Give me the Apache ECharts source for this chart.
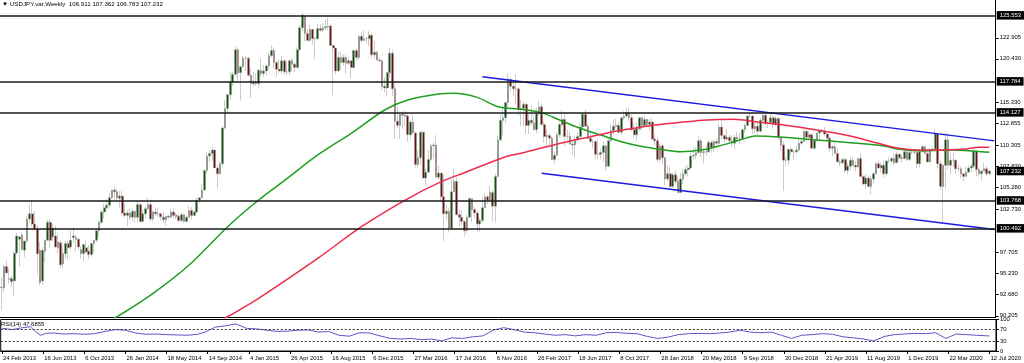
<!DOCTYPE html>
<html><head><meta charset="utf-8">
<script src="https://cdn.jsdelivr.net/npm/echarts@6/dist/echarts.min.js"></script>
<style>html,body{margin:0;padding:0;background:#fff}#c{width:1024px;height:363px}</style>
</head><body><div id="c"></div><script>
// ---------- data ----------
const symbolName = 'USDJPY.var,Weekly';
const startWeek = [2013, 1, 24];
const missingWeeks = ['2014-07-13'];
const emptySlots = 2;
// weekly rows [open, high, low, close]
const w2013 = [[93.5,94.75,90.85,93.57],[93.5,96.2,92.9,96.0],[96.0,96.7,95.2,95.25],[94.6,95.8,94.0,94.5],[94.6,94.9,93.6,94.2],[94.3,97.8,92.56,97.55],[97.6,99.95,97.4,99.6],[99.2,99.6,96.0,99.5],[99.7,99.95,97.9,98.0],[97.9,99.0,97.1,99.0],[99.0,101.98,98.8,101.6],[101.6,103.3,101.2,102.2],[102.2,103.74,100.7,101.0],[101.0,102.5,100.2,100.45],[100.4,100.9,94.98,97.5],[97.9,98.9,93.8,94.1],[94.3,98.3,93.8,97.9],[97.8,99.2,96.5,99.1],[99.1,101.5,99.0,101.2],[101.2,101.5,98.2,99.1],[99.5,101.0,99.0,100.5],[99.6,100.8,98.1,98.3],[98.2,100.0,97.6,98.9],[98.8,99.1,95.8,96.2],[96.3,98.5,95.8,97.5],[97.5,99.1,97.0,98.7],[98.7,99.0,96.8,98.2],[98.3,100.2,98.0,99.1],[99.6,100.6,98.8,99.4],[99.2,99.7,97.8,99.4],[99.2,99.4,98.0,98.3],[98.0,98.4,96.9,97.5],[97.5,98.6,96.6,98.6],[98.2,99.0,97.6,97.7],[97.8,98.5,96.9,97.4],[97.4,98.8,97.2,98.7],[98.7,99.2,97.6,99.05],[99.1,100.4,98.9,100.2],[100.2,101.4,99.5,101.2],[101.2,102.6,101.0,102.4],[102.4,103.4,101.6,102.9],[102.9,103.9,102.6,103.2],[103.2,104.6,102.8,104.1],[104.1,105.0,104.0,105.0],[105.0,105.44,103.8,104.8]];
const w2014 = [[104.8,105.2,103.8,104.1],[104.0,104.9,102.85,104.3],[104.3,104.9,102.1,102.3],[102.3,103.4,101.8,102.0],[102.0,102.6,100.75,102.3],[102.3,102.8,101.4,101.8],[101.8,102.8,101.4,102.5],[102.5,102.6,101.2,101.8],[101.8,103.76,101.2,103.3],[103.3,103.4,101.2,101.3],[101.3,102.7,101.2,102.2],[102.2,103.1,101.7,102.8],[102.8,104.1,102.7,103.3],[103.3,103.9,101.3,101.6],[101.6,102.6,101.3,102.4],[102.4,102.9,101.9,102.2],[102.2,103.0,101.9,102.2],[102.2,102.3,101.4,101.85],[101.8,102.4,101.1,101.5],[101.5,101.9,100.8,101.9],[101.9,102.1,101.6,101.8],[101.8,102.8,101.8,102.4],[102.4,102.8,101.7,102.0],[102.0,102.3,101.6,101.9],[101.9,102.1,101.2,101.4],[101.4,102.3,101.2,102.1],[102.1,102.2,101.1,101.3],[101.3,102.0,101.1,101.8],[101.8,103.15,101.7,102.6],[102.6,103.0,101.5,102.0],[102.0,102.6,101.9,102.4],[102.4,104.1,102.3,103.8],[103.8,104.1,103.5,104.1],[104.1,105.7,104.0,105.0],[105.0,107.4,104.9,107.3],[107.3,109.45,106.9,109.0],[109.0,109.7,108.3,109.3],[109.3,110.09,108.4,109.7],[109.7,109.8,107.6,107.6],[107.6,107.9,105.2,106.9],[106.9,108.4,106.8,108.1],[108.1,112.5,107.8,112.3],[112.3,115.6,112.2,114.6],[114.6,116.3,114.0,116.2],[116.2,118.9,115.5,117.7],[117.7,118.9,117.2,118.6],[118.6,121.85,118.5,121.5],[121.5,121.7,117.8,118.8],[118.8,119.6,115.55,119.5],[119.5,120.8,119.4,120.5],[120.5,120.7,119.0,120.5]];
const w2015 = [[120.5,120.7,118.3,118.5],[118.5,119.3,115.85,117.5],[117.5,118.9,117.2,117.7],[117.7,118.7,117.2,117.5],[117.5,119.2,116.9,119.1],[119.1,120.5,118.3,118.7],[118.7,119.7,118.3,119.0],[119.0,119.8,118.5,119.6],[119.6,121.2,119.2,120.8],[120.8,122.03,120.6,121.4],[121.4,121.8,119.3,120.0],[120.0,120.2,118.3,119.2],[119.2,120.4,118.7,119.0],[119.0,120.8,118.7,120.2],[120.2,120.4,118.6,118.9],[118.9,120.1,118.5,118.9],[118.9,120.3,118.5,120.2],[120.2,120.5,119.0,119.8],[119.8,120.0,118.9,119.4],[119.4,121.8,119.3,121.5],[121.5,124.4,121.4,124.1],[124.1,125.85,123.7,125.6],[125.4,125.5,122.5,123.4],[123.4,123.9,122.5,122.6],[122.6,124.45,122.4,123.9],[123.9,123.9,122.1,122.8],[122.8,123.0,120.4,122.8],[122.8,124.5,122.6,124.0],[124.0,124.5,123.6,123.8],[123.8,124.6,123.5,124.1],[124.1,125.1,123.8,124.2],[124.2,125.3,123.8,124.3],[124.3,124.6,122.0,122.0],[122.0,122.1,116.15,121.7],[121.7,121.7,118.6,119.0],[119.0,121.3,118.8,120.6],[120.6,121.3,119.2,120.0],[120.0,121.0,119.6,120.6],[120.6,120.9,118.7,119.9],[119.9,120.7,119.7,120.2],[120.2,120.3,118.1,119.4],[119.4,121.5,119.3,121.4],[121.4,121.7,120.2,120.6],[120.6,123.2,120.3,123.1],[123.1,123.6,122.4,122.6],[122.6,123.8,122.5,122.8],[122.8,123.0,122.3,122.8],[122.8,123.7,121.9,123.2],[123.2,123.4,120.6,120.9],[120.9,122.6,120.4,121.2],[121.2,121.4,120.2,120.3],[120.3,120.6,120.0,120.2]];
const w2016 = [[120.2,120.4,116.7,117.2],[117.2,118.3,116.5,117.0],[117.0,118.9,115.97,118.8],[118.8,121.7,118.2,121.1],[121.1,121.5,116.1,116.9],[116.9,117.5,110.99,113.1],[113.1,114.9,112.3,112.6],[112.6,114.0,111.0,113.9],[113.9,114.2,112.2,113.8],[113.8,114.3,112.5,113.7],[113.7,114.2,110.7,111.5],[111.5,113.3,111.0,113.0],[113.0,113.8,111.6,111.7],[111.7,111.9,107.65,108.0],[108.0,109.7,107.6,108.8],[108.8,111.9,107.9,111.8],[111.8,111.9,106.3,106.4],[106.4,107.5,105.5,107.1],[107.1,109.7,107.0,108.6],[108.6,110.4,108.3,110.2],[110.2,110.6,108.7,110.3],[110.3,111.45,106.5,106.5],[106.5,107.9,106.3,107.0],[107.0,107.0,103.55,104.2],[104.2,106.8,99.0,102.2],[102.2,103.3,101.5,102.5],[102.5,102.9,99.98,100.5],[100.5,106.3,100.4,104.8],[104.8,107.5,104.7,106.0],[106.0,106.5,102.0,102.1],[102.1,102.6,100.7,101.8],[101.8,102.7,100.9,101.3],[101.3,101.4,99.55,100.2],[100.2,102.0,99.9,101.8],[101.8,104.2,101.7,104.0],[104.0,104.0,101.2,102.7],[102.7,103.0,101.7,102.3],[102.3,102.6,100.1,101.0],[101.0,101.7,100.1,101.4],[101.4,104.2,101.1,102.9],[102.9,104.6,102.8,104.2],[104.2,104.4,103.3,103.8],[103.8,105.5,103.6,104.7],[104.7,105.0,101.3,103.1],[103.1,106.9,101.2,106.6],[106.6,111.4,106.5,110.9],[110.9,113.9,110.7,113.2],[113.2,114.8,111.4,113.5],[113.5,115.4,112.9,115.3],[115.3,118.66,114.7,118.0],[118.0,118.25,116.6,117.2],[117.2,117.8,116.0,116.9]];
const w2017 = [[116.9,118.6,115.1,116.9],[116.9,116.9,113.75,114.5],[114.5,115.6,112.6,114.6],[114.6,115.4,112.5,115.1],[115.1,115.2,111.6,112.6],[112.6,113.9,111.6,113.2],[113.2,114.9,112.6,112.9],[112.9,113.9,112.1,112.1],[112.1,114.7,111.7,114.0],[114.0,115.5,113.7,114.8],[114.8,115.2,112.6,112.7],[112.7,113.1,110.6,111.3],[111.3,112.2,110.1,111.4],[111.4,111.6,110.1,111.1],[111.1,111.3,108.5,108.6],[108.6,109.5,108.1,109.1],[109.1,111.8,109.0,111.5],[111.5,113.0,111.2,112.7],[112.7,114.4,112.5,113.3],[113.3,113.9,110.2,111.3],[111.3,112.1,110.8,111.3],[111.3,111.8,110.3,110.4],[110.4,110.7,109.1,110.3],[110.3,111.4,108.8,110.9],[110.9,111.8,110.8,111.3],[111.3,112.9,111.0,112.4],[112.4,114.1,112.4,113.9],[113.9,114.5,112.5,112.5],[112.5,112.8,111.0,111.1],[111.1,111.9,110.6,110.7],[110.7,111.0,109.9,110.7],[110.7,110.9,108.7,109.2],[109.2,110.95,108.6,109.2],[109.2,109.8,108.6,109.4],[109.4,110.7,108.3,110.2],[110.2,110.3,107.3,107.8],[107.8,111.0,107.7,110.8],[110.8,112.7,110.7,112.0],[112.0,113.3,111.5,112.5],[112.5,113.4,112.3,112.6],[112.6,113.0,111.7,111.8],[111.8,113.6,111.5,113.5],[113.5,114.3,113.2,113.7],[113.7,114.7,113.5,114.1],[114.1,114.7,113.1,113.5],[113.5,113.9,111.9,112.1],[112.1,112.9,111.1,111.5],[111.5,112.9,110.8,112.2],[112.2,113.6,112.0,113.5],[113.5,113.7,112.0,112.6],[112.6,113.7,112.5,113.3],[113.3,113.4,112.5,112.7]];
const w2018 = [[112.7,113.4,112.0,113.0],[113.0,113.4,110.9,111.0],[111.0,111.5,110.2,110.8],[110.8,111.2,108.3,108.6],[108.6,110.5,108.3,110.2],[110.2,110.5,108.1,108.8],[108.8,108.9,105.55,106.3],[106.3,107.9,106.0,106.9],[106.9,107.7,105.25,105.4],[105.4,107.0,105.3,106.8],[106.8,107.3,105.6,106.0],[106.0,106.6,104.6,104.7],[104.7,107.0,104.6,106.3],[106.3,107.5,105.7,106.9],[106.9,107.8,106.6,107.4],[107.4,107.9,106.6,107.6],[107.6,109.5,107.5,109.0],[109.0,110.0,108.6,109.1],[109.1,110.0,108.6,109.4],[109.4,111.4,109.3,110.8],[110.8,111.1,108.9,109.4],[109.4,109.8,108.1,109.5],[109.5,110.3,109.0,109.5],[109.5,110.9,109.4,110.6],[110.6,110.8,109.4,110.0],[110.0,110.9,109.4,110.7],[110.7,111.1,110.3,110.5],[110.5,112.8,110.3,112.4],[112.4,113.2,111.0,111.4],[111.4,111.5,110.6,111.0],[111.0,112.2,110.8,111.2],[111.2,111.5,110.4,110.8],[110.8,111.4,110.1,110.5],[110.5,111.5,109.8,111.2],[111.2,111.8,110.6,111.0],[111.0,111.8,110.4,111.0],[111.0,112.1,110.9,112.1],[112.1,112.9,111.7,112.6],[112.6,113.7,112.5,113.7],[113.7,114.55,113.5,113.7],[113.7,113.8,111.6,112.2],[112.2,112.9,111.6,112.5],[112.5,112.9,111.4,111.9],[111.9,113.4,111.8,113.2],[113.2,114.1,112.9,113.8],[113.8,114.2,112.6,112.8],[112.8,113.2,112.3,112.9],[112.9,114.0,112.7,113.5],[113.5,113.8,112.2,112.7],[112.7,113.7,112.5,113.4],[113.4,113.6,110.8,111.2],[111.2,111.4,109.6,110.3],[110.3,110.7,104.87,108.5]];
const w2019 = [[108.5,108.9,107.8,108.5],[108.5,109.9,107.9,109.8],[109.8,109.9,109.2,109.5],[109.5,109.7,108.5,109.5],[109.5,110.2,109.3,109.7],[109.7,111.1,109.6,110.5],[110.5,110.9,110.3,110.7],[110.7,112.1,110.6,111.9],[111.9,112.1,110.8,111.2],[111.2,111.9,111.0,111.5],[111.5,111.7,109.9,109.9],[109.9,111.0,109.7,110.8],[110.8,111.8,110.7,111.7],[111.7,112.0,110.9,112.0],[112.0,112.2,111.7,111.9],[111.9,112.4,111.4,111.6],[111.6,111.7,110.9,111.1],[111.1,111.2,109.5,109.9],[109.9,110.3,109.0,110.1],[110.1,110.7,109.3,109.3],[109.3,109.9,108.3,108.3],[108.3,108.6,107.8,108.2],[108.2,108.8,108.0,108.6],[108.6,108.8,107.0,107.3],[107.3,108.2,106.8,107.8],[107.8,108.9,107.3,108.5],[108.5,108.9,107.8,107.9],[107.9,108.4,107.2,107.7],[107.7,108.8,107.6,108.7],[108.7,109.3,106.5,106.6],[106.6,106.8,105.5,105.7],[105.7,106.9,105.1,106.4],[106.4,106.7,105.3,105.4],[105.4,106.7,104.45,106.3],[106.3,107.2,105.7,106.9],[106.9,108.3,106.8,108.1],[108.1,108.5,107.5,107.6],[107.6,108.2,107.1,107.9],[107.9,108.5,106.5,106.9],[106.9,108.6,106.7,108.4],[108.4,108.9,108.2,108.4],[108.4,108.9,108.2,108.7],[108.7,109.3,107.9,108.2],[108.2,109.5,108.2,109.2],[109.2,109.3,108.3,108.8],[108.8,109.1,108.2,108.7],[108.7,109.7,108.6,109.5],[109.5,109.7,108.4,108.6],[108.6,109.7,108.4,109.4],[109.4,109.7,109.2,109.4],[109.4,109.6,109.2,109.4],[109.4,109.7,107.6,108.1]];
const w2020 = [[108.1,109.7,107.65,109.5],[109.5,110.3,109.4,110.1],[110.1,110.2,109.2,109.3],[109.3,109.6,108.3,108.3],[108.3,110.0,108.3,109.8],[109.8,110.1,109.6,109.8],[109.8,112.2,109.7,111.6],[111.6,111.6,107.5,108.1],[108.1,108.5,105.0,105.4],[105.4,108.0,101.18,107.9],[107.9,111.7,105.15,110.9],[110.9,111.7,107.4,107.9],[107.9,109.4,106.9,108.5],[108.5,109.4,107.7,108.5],[108.5,108.6,106.9,107.5],[107.5,108.0,107.2,107.5],[107.5,107.8,106.4,106.9],[106.9,107.0,106.0,106.6],[106.6,107.8,106.6,107.1],[107.1,107.9,107.1,107.6],[107.6,108.1,107.1,107.8],[107.8,109.85,107.6,109.6],[109.6,109.7,106.6,107.4],[107.4,107.6,106.6,106.9],[106.9,107.5,106.1,107.2],[107.2,108.2,107.2,107.5],[107.5,107.8,106.6,106.9],[106.911,107.362,106.783,107.232]];

const priceTicks = [122.905, 120.430, 115.330, 112.855, 110.305, 107.830, 105.280, 102.730, 97.705, 95.230, 92.680, 90.205];
const levelLines = [125.553, 117.784, 114.127, 103.768, 100.492];
const lastPrice = 107.232;
// moving averages: [bar index, value]
const maGreen = [[42,89.7],[45,90.09],[59,92.85],[73,96.18],[88,100.68],[100,103.82],[110,106.1],[123,109.12],[136,111.67],[149,114.41],[158,115.59],[170,116.29],[176,116.38],[185,115.9],[193,114.8],[202,114.5],[210,114.1],[217,113.23],[225,112.26],[233,111.47],[241,110.68],[248,110.18],[256,109.79],[264,109.5],[272,109.7],[279,110.18],[287,110.88],[293,111.35],[304,111.2],[317,110.88],[330,110.56],[343,110.18],[349,109.79],[356,109.62],[369,109.7],[381,109.5],[384,109.45]];
const maRed = [[86,89.8],[88,90.09],[100,92.26],[123,96.96],[140,100.68],[157,103.82],[171,105.98],[181,107.15],[196,108.92],[202,109.32],[211,110.02],[220,110.68],[229,111.27],[238,111.86],[246,112.26],[254,112.64],[264,112.96],[274,113.24],[285,113.32],[293,113.03],[304,112.64],[317,112.06],[330,111.35],[340,110.56],[349,109.9],[356,109.7],[363,109.7],[374,109.79],[380,110.02],[384,110.02]];
const channelUpper = [[187,118.33],[386,110.78]];
const channelLower = [[210,106.97],[386,100.36]];
// RSI(14): [bar index, value]
const rsiPoints = [[0,72],[4,68],[8,74],[11,77],[13,62],[15,50],[17,56],[20,57],[24,54],[28,55],[32,53],[36,55],[40,62],[44,68],[48,66],[52,57],[56,53],[60,54],[64,52],[68,51],[72,50],[76,53],[79,60],[83,76],[87,80],[91,86],[95,72],[99,70],[103,66],[107,62],[111,63],[115,66],[119,67],[123,60],[127,62],[131,50],[135,47],[139,58],[143,57],[147,48],[151,40],[155,38],[159,40],[163,36],[167,38],[171,32],[175,42],[179,40],[183,45],[187,48],[191,66],[195,74],[199,68],[203,60],[207,58],[211,54],[215,50],[219,52],[223,48],[227,52],[231,50],[235,58],[239,59],[243,56],[247,55],[251,46],[255,40],[259,44],[263,52],[267,55],[271,56],[275,55],[279,57],[283,60],[287,66],[291,60],[295,58],[299,60],[303,50],[307,40],[311,50],[315,52],[319,55],[323,53],[327,45],[331,42],[335,38],[339,32],[343,46],[347,52],[351,54],[355,56],[359,55],[363,58],[367,40],[371,54],[375,52],[379,50],[384,47.69]];
const rsiLast = 47.6855;
const rsiLevels = [70, 30];
const rsiTicks = [0, 30, 70, 100];

// ---------- build ----------
const rows = [].concat(w2013, w2014, w2015, w2016, w2017, w2018, w2019, w2020);
const monthNames = ['Jan','Feb','Mar','Apr','May','Jun','Jul','Aug','Sep','Oct','Nov','Dec'];
const categories = [];
let t = Date.UTC(startWeek[0], startWeek[1], startWeek[2]);
while (categories.length < rows.length + emptySlots) {
  const d = new Date(t);
  if (!missingWeeks.includes(d.toISOString().slice(0, 10))) {
    categories.push(d.getUTCDate() + ' ' + monthNames[d.getUTCMonth()] + ' ' + d.getUTCFullYear());
  }
  t += 7 * 86400000;
}
const candles = rows.map(r => [r[0], r[3], r[2], r[1]]);
const last = rows[rows.length - 1];
const FONT = 'Liberation Sans';
const FS = 5.9;

const levelLabel = {
  show: true, position: 'end', distance: 1, formatter: '{b}',
  backgroundColor: '#000', color: '#fff', fontFamily: FONT, fontSize: FS,
  padding: [1.5, 3, 1, 3]
};
const levelItems = levelLines.map(v => ({ name: v.toFixed(3), yAxis: v,
  lineStyle: { color: '#1a1a1a', width: 1.5, type: 'solid' }, label: levelLabel }));
levelItems.push({ name: lastPrice.toFixed(3), yAxis: lastPrice,
  lineStyle: { color: 'rgba(0,0,0,0)', width: 1 }, label: levelLabel });

const chart = echarts.init(document.getElementById('c'), null, { renderer: 'canvas' });
chart.setOption({
  animation: false,
  backgroundColor: '#fff',
  textStyle: { fontFamily: FONT },
  title: [
    { text: '\u25BC ' + symbolName + '  ' + last.map(v => v.toFixed(3)).join(' '), left: 2, top: 1, padding: 0,
      textStyle: { fontSize: 6.2, fontWeight: 'normal', color: '#000', fontFamily: FONT } },
    { text: 'RSI(14) ' + rsiLast.toFixed(4), left: 1, top: 321, padding: 0,
      textStyle: { fontSize: FS, fontWeight: 'normal', color: '#000', fontFamily: FONT } }
  ],
  grid: [
    { left: -2.39, right: 28, top: 0, height: 317.5, containLabel: false },
    { left: -2.39, right: 28, top: 319.5, height: 31.5, containLabel: false, show: true, borderColor: '#000', borderWidth: 1 }
  ],
  xAxis: [
    { type: 'category', gridIndex: 0, data: categories, boundaryGap: true,
      axisLine: { show: true, lineStyle: { color: '#000', width: 1 } },
      axisTick: { show: false }, axisLabel: { show: false }, splitLine: { show: false } },
    { type: 'category', gridIndex: 1, data: categories, boundaryGap: true,
      axisLine: { show: true, lineStyle: { color: '#000', width: 1 } },
      axisTick: { show: true, interval: 15, alignWithLabel: true, length: 3, lineStyle: { color: '#000' } },
      axisLabel: { show: true, interval: 15, align: 'left', padding: [0, 0, 0, 1], margin: 4,
        fontSize: FS, color: '#000', fontFamily: FONT, hideOverlap: false },
      splitLine: { show: false } }
  ],
  yAxis: [
    { type: 'value', gridIndex: 0, position: 'right', min: 90.0, max: 127.353, scale: true,
      axisLine: { show: true, lineStyle: { color: '#000', width: 1 } },
      axisTick: { show: true, length: 3, customValues: priceTicks, lineStyle: { color: '#000' } },
      axisLabel: { show: true, customValues: priceTicks, formatter: v => v.toFixed(3), margin: 4,
        fontSize: FS, color: '#000', fontFamily: FONT },
      splitLine: { show: false } },
    { type: 'value', gridIndex: 1, position: 'right', min: 0, max: 100,
      axisLine: { show: true, lineStyle: { color: '#000', width: 1 } },
      axisTick: { show: true, length: 3, customValues: rsiTicks, lineStyle: { color: '#000' } },
      axisLabel: { show: true, customValues: rsiTicks, margin: 4, fontSize: FS, color: '#000', fontFamily: FONT },
      splitLine: { show: false } }
  ],
  series: [
    { type: 'candlestick', xAxisIndex: 0, yAxisIndex: 0, data: candles, barWidth: 2.2,
      itemStyle: { color: '#0f520f', color0: '#6a1010', borderColor: '#999', borderColor0: '#999', borderWidth: 0.5 },
      markLine: { symbol: ['none', 'none'], silent: true, animation: false, data: levelItems } },
    { type: 'line', xAxisIndex: 0, yAxisIndex: 0, data: maGreen, showSymbol: false, symbol: 'none',
      smooth: 0.3, lineStyle: { color: '#1f9e1f', width: 1.5 }, z: 3 },
    { type: 'line', xAxisIndex: 0, yAxisIndex: 0, data: maRed, showSymbol: false, symbol: 'none',
      smooth: 0.3, lineStyle: { color: '#ee2c4c', width: 1.5 }, z: 3 },
    { type: 'line', xAxisIndex: 0, yAxisIndex: 0, data: channelUpper, showSymbol: false, symbol: 'none',
      lineStyle: { color: '#1a1ae6', width: 1.5 }, z: 4 },
    { type: 'line', xAxisIndex: 0, yAxisIndex: 0, data: channelLower, showSymbol: false, symbol: 'none',
      lineStyle: { color: '#1a1ae6', width: 1.5 }, z: 4 },
    { type: 'line', xAxisIndex: 1, yAxisIndex: 1, data: rsiPoints, showSymbol: false, symbol: 'none',
      lineStyle: { color: '#5858c8', width: 1 },
      markLine: { symbol: ['none', 'none'], silent: true, label: { show: false },
        data: rsiLevels.map(v => ({ yAxis: v })), lineStyle: { color: '#333', width: 1, type: [2, 2] } } }
  ]
});
</script></body></html>
